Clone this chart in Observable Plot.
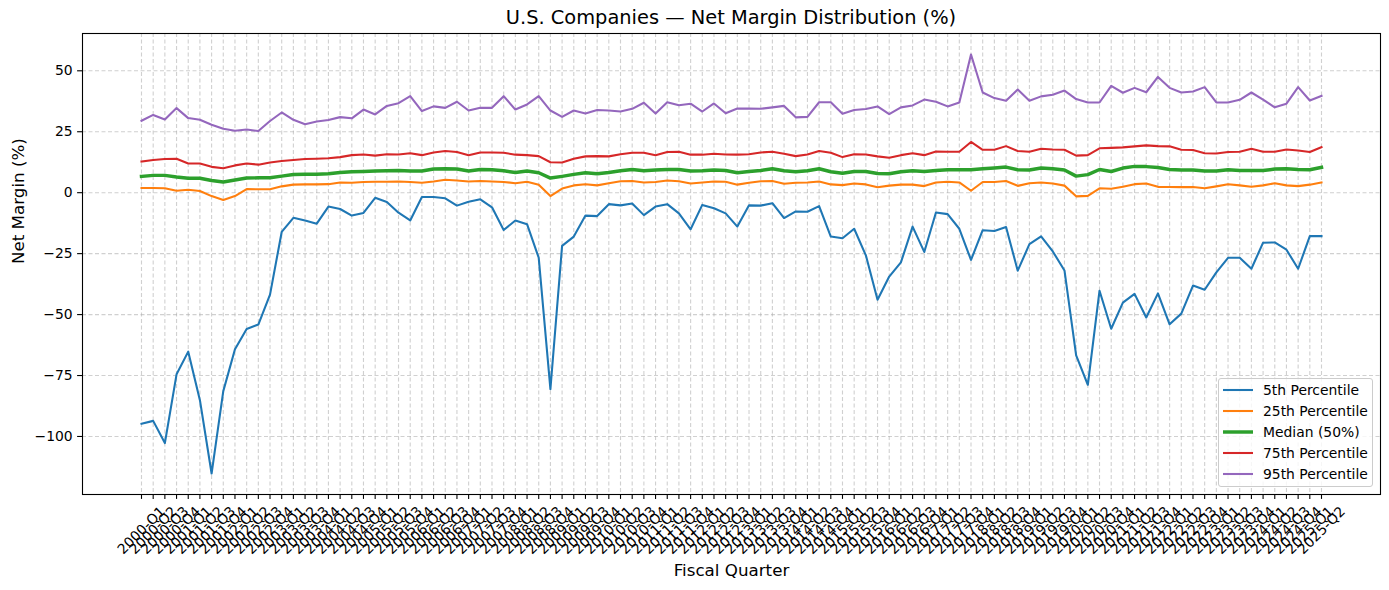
<!DOCTYPE html>
<html>
<head>
<meta charset="utf-8">
<script src="https://cdn.jsdelivr.net/npm/d3@7"></script>
<script src="https://cdn.jsdelivr.net/npm/@observablehq/plot@0.6"></script>
<style>
  html, body { margin: 0; padding: 0; background: #fff; }
  body { font-family: "DejaVu Sans", sans-serif; }
  #fig { position: relative; width: 1389px; height: 590px; overflow: hidden; }
  #title { position: absolute; left: 0; top: 0; width: 1389px; box-sizing: border-box; padding-left: 73px;
           text-align: center; font-size: 19.4px; line-height: 22px; top: 7px; color: #000; }
  #legend { position: absolute; left: 1218px; top: 378px; width: 155px; height: 109px; box-sizing: border-box;
            border: 1px solid #cccccc; border-radius: 3px; background: rgba(255,255,255,0.8); }
</style>
</head>
<body>
<div id="fig">
  <div id="chart"></div>
  <div id="title">U.S. Companies — Net Margin Distribution (%)</div>
  <div id="legend"></div>
</div>
<script>
const quarters = [
  "2000-Q1","2000-Q2","2000-Q3","2000-Q4","2001-Q1","2001-Q2","2001-Q3","2001-Q4",
  "2002-Q1","2002-Q2","2002-Q3","2002-Q4","2003-Q1","2003-Q2","2003-Q3","2003-Q4",
  "2004-Q1","2004-Q2","2004-Q3","2004-Q4","2005-Q1","2005-Q2","2005-Q3","2005-Q4",
  "2006-Q1","2006-Q2","2006-Q3","2006-Q4","2007-Q1","2007-Q2","2007-Q3","2007-Q4",
  "2008-Q1","2008-Q2","2008-Q3","2008-Q4","2009-Q1","2009-Q2","2009-Q3","2009-Q4",
  "2010-Q1","2010-Q2","2010-Q3","2010-Q4","2011-Q1","2011-Q2","2011-Q3","2011-Q4",
  "2012-Q1","2012-Q2","2012-Q3","2012-Q4","2013-Q1","2013-Q2","2013-Q3","2013-Q4",
  "2014-Q1","2014-Q2","2014-Q3","2014-Q4","2015-Q1","2015-Q2","2015-Q3","2015-Q4",
  "2016-Q1","2016-Q2","2016-Q3","2016-Q4","2017-Q1","2017-Q2","2017-Q3","2017-Q4",
  "2018-Q1","2018-Q2","2018-Q3","2018-Q4","2019-Q1","2019-Q2","2019-Q3","2019-Q4",
  "2020-Q1","2020-Q2","2020-Q3","2020-Q4","2021-Q1","2021-Q2","2021-Q3","2021-Q4",
  "2022-Q1","2022-Q2","2022-Q3","2022-Q4","2023-Q1","2023-Q2","2023-Q3","2023-Q4",
  "2024-Q1","2024-Q2","2024-Q3","2024-Q4","2025-Q1","2025-Q2"
];

const p5 = [-94.8,-93.6,-102.7,-74.5,-65.2,-85.1,-115.2,-81.4,-64.2,-55.9,-54.1,-41.8,-16.1,-10.3,-11.4,-12.7,
  -5.7,-6.7,-9.4,-8.3,-2.1,-3.8,-8.2,-11.4,-1.8,-1.8,-2.3,-5.3,-3.7,-2.7,-6.0,-15.3,
  -11.4,-12.9,-26.7,-80.6,-21.8,-18.0,-9.4,-9.6,-4.7,-5.2,-4.4,-9.2,-5.7,-4.7,-8.5,-15.0,
  -5.0,-6.4,-8.5,-13.9,-5.2,-5.3,-4.3,-10.4,-7.7,-7.8,-5.5,-18.0,-18.7,-14.8,-25.7,-43.9,
  -34.4,-28.6,-13.9,-24.3,-8.1,-8.8,-14.8,-27.6,-15.4,-15.7,-14.1,-32.0,-21.1,-17.9,-24.1,-31.9,
  -66.7,-78.8,-40.2,-55.8,-45.1,-41.5,-51.2,-41.3,-54.0,-49.6,-38.1,-39.8,-32.7,-26.7,-26.7,-31.2,
  -20.5,-20.4,-23.4,-31.2,-17.8,-17.8];
const p25 = [1.9,1.9,1.8,0.8,1.2,0.7,-1.4,-3.0,-1.4,1.5,1.4,1.4,2.6,3.3,3.4,3.4,
  3.5,4.2,4.1,4.4,4.5,4.5,4.6,4.4,4.1,4.6,5.3,5.0,4.6,4.8,4.6,4.4,
  3.9,4.5,3.3,-1.4,1.7,3.0,3.5,3.0,3.9,4.7,4.8,4.2,4.4,5.0,4.7,3.8,
  4.2,4.6,4.5,3.3,4.1,4.7,4.8,3.7,4.1,4.2,4.6,3.4,3.1,3.8,3.4,2.2,
  2.9,3.3,3.3,2.7,4.2,4.5,4.2,0.8,4.4,4.4,4.8,2.8,3.9,4.2,3.8,2.9,
  -1.5,-1.3,1.8,1.6,2.4,3.5,3.8,2.4,2.3,2.3,2.3,1.8,2.6,3.5,3.0,2.4,
  3.0,3.9,3.0,2.7,3.3,4.2];
const p50 = [6.7,7.1,7.1,6.4,5.9,5.9,5.0,4.4,5.2,6.0,6.1,6.1,6.8,7.5,7.6,7.6,
  7.8,8.3,8.6,8.7,8.9,9.0,9.1,8.9,8.9,9.7,9.8,9.7,8.9,9.5,9.4,9.0,
  8.3,8.9,8.2,6.0,6.7,7.5,8.2,7.8,8.3,9.0,9.5,9.0,9.3,9.5,9.5,8.9,
  9.0,9.3,9.1,8.2,8.7,9.1,9.8,9.0,8.6,9.0,9.8,8.6,8.0,8.7,8.7,7.9,
  7.8,8.6,9.0,8.7,9.1,9.4,9.4,9.4,9.8,10.1,10.5,9.4,9.3,10.1,9.8,9.3,
  6.8,7.4,9.5,8.7,10.1,10.8,10.7,10.3,9.5,9.3,9.3,8.9,8.9,9.4,9.1,9.1,
  9.1,9.7,9.8,9.5,9.4,10.4];
const p75 = [12.8,13.4,13.8,13.9,12.0,12.0,10.6,10.0,11.2,12.0,11.5,12.4,13.0,13.4,13.8,13.9,
  14.1,14.6,15.4,15.7,15.2,15.8,15.7,16.2,15.4,16.5,17.1,16.7,15.4,16.5,16.5,16.4,
  15.6,15.4,15.0,12.5,12.4,13.9,14.9,15.0,14.9,15.8,16.4,16.4,15.4,16.7,16.8,15.6,
  15.6,16.0,15.7,15.6,15.8,16.5,16.8,16.0,15.0,15.7,17.1,16.4,14.6,15.8,15.7,14.9,
  14.3,15.4,16.2,15.4,16.9,16.8,16.8,20.8,17.6,17.6,19.1,17.1,16.8,18.0,17.7,17.6,
  15.2,15.4,18.2,18.4,18.6,19.0,19.4,19.1,19.0,17.6,17.5,16.2,16.1,16.7,16.8,18.0,
  16.8,16.8,17.7,17.3,16.7,18.7];
const p95 = [29.5,31.9,30.0,34.7,30.6,29.9,27.9,26.2,25.4,25.9,25.3,29.4,32.9,29.9,28.1,29.2,
  29.8,31.0,30.5,34.1,32.1,35.6,36.7,39.6,33.5,35.4,34.8,37.3,33.7,34.8,34.8,39.6,
  34.1,36.2,39.6,33.7,31.1,33.7,32.5,33.9,33.7,33.3,34.4,36.9,32.5,37.1,35.9,36.5,
  33.3,36.6,32.6,34.5,34.5,34.4,35.0,35.6,30.9,31.1,37.1,37.1,32.4,33.9,34.3,35.4,
  32.2,35.0,35.8,38.2,37.3,35.4,37.0,56.7,41.1,38.8,37.7,42.3,37.7,39.5,40.2,41.9,
  38.4,37.0,37.0,43.8,41.0,43.0,41.2,47.5,43.0,41.1,41.5,43.3,37.0,37.0,38.1,41.1,
  38.2,35.0,36.5,43.3,37.8,39.7];

const seriesNames = ["5th Percentile","25th Percentile","Median (50%)","75th Percentile","95th Percentile"];
const seriesValues = [p5, p25, p50, p75, p95];
const seriesColors = ["#1f77b4","#ff7f0e","#2ca02c","#d62728","#9467bd"];
const seriesWidths = [2.08, 2.08, 3.47, 2.08, 2.08];
const yTicks = [-100, -75, -50, -25, 0, 25, 50];

const idx = quarters.map((q, i) => i);
const rows = seriesNames.map((s, k) => seriesValues[k].map((v, i) => ({s, i, v})));

const gridStyle = {stroke: "#b0b0b0", strokeOpacity: 0.6, strokeDasharray: "4,2.5", strokeWidth: 1.1};

const chart = Plot.plot({
  width: 1389,
  height: 590,
  marginLeft: 82,
  marginRight: 9,
  marginTop: 33,
  marginBottom: 96,
  style: {fontFamily: "DejaVu Sans, sans-serif", fontSize: "13.9px", background: "white", color: "black", overflow: "visible"},
  x: {type: "linear", domain: [-5.05, 106.05], axis: null},
  y: {domain: [-123.8, 65.3], axis: null},
  marks: [
    Plot.gridX(idx, gridStyle),
    Plot.gridY(yTicks, gridStyle),
    ...rows.map((r, k) => Plot.line(r, {x: "i", y: "v", stroke: seriesColors[k], strokeWidth: seriesWidths[k], strokeLinejoin: "round", strokeLinecap: "square"})),
    Plot.frame({stroke: "black", strokeWidth: 1.1}),
    Plot.axisX(idx, {tickSize: 4.9, strokeWidth: 1.1, fill: "none", label: null}),
    Plot.axisY(yTicks, {tickSize: 4.9, tickPadding: 4.9, strokeWidth: 1.1, fontSize: 13.9, label: null}),
    Plot.text(idx, {x: d => d, text: d => quarters[d], frameAnchor: "bottom", dy: 36, rotate: -45,
      textAnchor: "middle", lineAnchor: "middle", fontSize: 13.9, fill: "black"}),
    Plot.text(["Fiscal Quarter"], {text: d => d, frameAnchor: "bottom", dy: 76, fontSize: 16.7, fill: "black", lineAnchor: "middle"}),
    Plot.text(["Net Margin (%)"], {text: d => d, frameAnchor: "left", dx: -64, rotate: -90, fontSize: 16.7, fill: "black", lineAnchor: "middle"})
  ]
});
document.getElementById("chart").appendChild(chart);

// legend
const ns = "http://www.w3.org/2000/svg";
const lg = document.createElementNS(ns, "svg");
lg.setAttribute("width", 153);
lg.setAttribute("height", 107);
lg.style.display = "block";
seriesNames.forEach((name, k) => {
  const cy = 11 + k * 21;
  const ln = document.createElementNS(ns, "line");
  ln.setAttribute("x1", 4); ln.setAttribute("x2", 34);
  ln.setAttribute("y1", cy); ln.setAttribute("y2", cy);
  ln.setAttribute("stroke", seriesColors[k]);
  ln.setAttribute("stroke-width", seriesWidths[k]);
  lg.appendChild(ln);
  const t = document.createElementNS(ns, "text");
  t.setAttribute("x", 44); t.setAttribute("y", cy);
  t.setAttribute("dy", "0.35em");
  t.setAttribute("font-size", "13.9px");
  t.setAttribute("font-family", "DejaVu Sans, sans-serif");
  t.textContent = name;
  lg.appendChild(t);
});
document.getElementById("legend").appendChild(lg);
</script>
</body>
</html>
